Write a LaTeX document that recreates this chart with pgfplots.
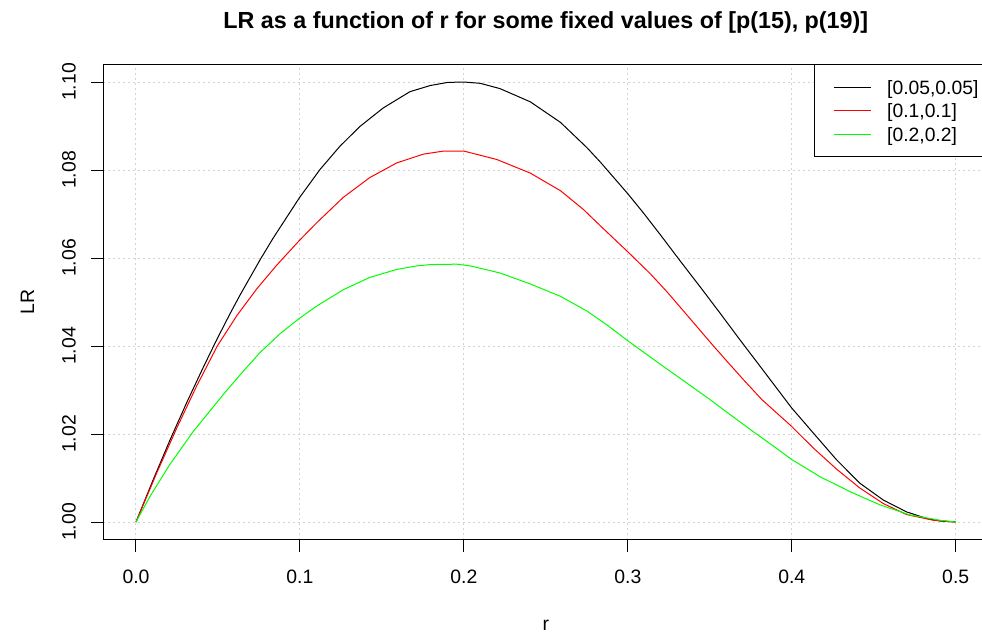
\documentclass[border=0pt]{standalone}
\usepackage{fontspec}
\setmainfont{Liberation Sans}
\usepackage{pgfplots}
\pgfplotsset{compat=1.18}
\definecolor{rgrid}{HTML}{D3D3D3}
\definecolor{rred}{HTML}{FF0000}
\definecolor{rgreen}{HTML}{00FF00}
\begin{document}
\begin{tikzpicture}[x=1pt,y=1pt]
\begin{axis}[
  at={(51.6pt,47.2pt)}, anchor=south west,
  scale only axis, width=442.65pt, height=237.6pt,
  xmin=-0.02, xmax=0.52, ymin=0.996, ymax=1.104,
  xtick={0,0.1,0.2,0.3,0.4,0.5},
  ytick={1.00,1.02,1.04,1.06,1.08,1.10},
  grid=major,
  major grid style={draw=rgrid, dash pattern=on 1pt off 1.5pt, line width=0.5pt},
  axis line style={line width=0.5pt, black},
  tick style={black, line width=0.5pt},
  tick align=outside, major tick length=6pt,
  xtick pos=lower, ytick pos=left,
  /pgf/number format/assume math mode=true,
  ticklabel style={font=\fontsize{9.7}{11}\selectfont},
  xticklabel style={/pgf/number format/fixed, /pgf/number format/fixed zerofill, /pgf/number format/precision=1, anchor=base, yshift=-15.9pt},
  yticklabel style={/pgf/number format/fixed, /pgf/number format/fixed zerofill, /pgf/number format/precision=2, xshift=-7.8pt, rotate=90, anchor=base},
  xlabel={r}, ylabel={LR},
  label style={font=\fontsize{9.7}{11}\selectfont},
  xlabel style={at={(axis description cs:0.5,0)}, anchor=base, yshift=-45.2pt},
  ylabel style={at={(axis description cs:-0.0779,0.5)}, anchor=base},
  legend style={at={(axis description cs:0.8029,1)}, anchor=north west, draw=black, line width=0.5pt, fill=white,
    inner xsep=9.35pt, inner ysep=7.15pt, row sep=3.85pt, column sep=8pt,
    font=\fontsize{9.65}{11}\selectfont,
    nodes={inner sep=0pt, text height=7.45pt, text depth=0.55pt}},
  legend cell align=left,
  legend image code/.code={\draw[#1] (0pt,0pt) -- (18.5pt,0pt);},
  every axis plot/.append style={line width=0.5pt},
]
\addplot[black] coordinates {
(0.000,1.0000) (0.0106,1.0097) (0.0207,1.0186) (0.0309,1.0271) (0.0411,1.0352)
(0.0492,1.0414) (0.0573,1.0473) (0.0635,1.0516) (0.0757,1.0596) (0.0838,1.0646)
(0.0997,1.0737) (0.1122,1.0801) (0.1244,1.0854) (0.1366,1.0899) (0.1508,1.0941)
(0.1671,1.0978) (0.1795,1.0992) (0.190,1.0999) (0.200,1.1000) (0.210,1.0997)
(0.222,1.0985) (0.2405,1.0955) (0.259,1.0908) (0.275,1.0851) (0.283,1.0819)
(0.300,1.0746) (0.3094,1.0703) (0.3196,1.0654) (0.3318,1.0594) (0.344,1.0535)
(0.3562,1.0475) (0.3684,1.0414) (0.3827,1.0344) (0.3953,1.0282) (0.400,1.0259)
(0.4132,1.0202) (0.4274,1.0141) (0.4416,1.0088) (0.4558,1.0050) (0.470,1.0023)
(0.4823,1.0008) (0.4908,1.0002) (0.500,1.0000)
};
\addlegendentry{[0.05,0.05]}
\addplot[rred] coordinates {
(0.000,1.0000) (0.0126,1.0111) (0.0248,1.0213) (0.037,1.0309) (0.0496,1.0400)
(0.0615,1.0469) (0.0737,1.0530) (0.0859,1.0584) (0.0997,1.0640) (0.1102,1.0680)
(0.1265,1.0738) (0.1427,1.0783) (0.159,1.0816) (0.1752,1.0836) (0.1876,1.0843)
(0.200,1.0843) (0.220,1.0824) (0.2405,1.0793) (0.2589,1.0753) (0.273,1.0710)
(0.283,1.0674) (0.300,1.0614) (0.3135,1.0565) (0.3237,1.0524) (0.338,1.0462)
(0.352,1.0401) (0.3603,1.0366) (0.3704,1.0324) (0.3818,1.0278) (0.400,1.0217)
(0.4132,1.0168) (0.4274,1.0120) (0.4416,1.0077) (0.4558,1.0042) (0.470,1.0017)
(0.4863,1.0004) (0.500,1.0000)
};
\addlegendentry{[0.1,0.1]}
\addplot[rgreen] coordinates {
(0.000,1.0000) (0.0085,1.0058) (0.0207,1.0131) (0.035,1.0206) (0.0533,1.0290)
(0.0655,1.0343) (0.0756,1.0385) (0.0879,1.0428) (0.0997,1.0463) (0.1103,1.0491)
(0.1265,1.0528) (0.1427,1.0556) (0.159,1.0574) (0.1712,1.0582) (0.1795,1.0585)
(0.1957,1.0586) (0.204,1.0582) (0.222,1.0566) (0.2405,1.0541) (0.2589,1.0513)
(0.2752,1.0479) (0.2876,1.0447) (0.300,1.0412) (0.3196,1.0359) (0.3359,1.0316) (0.3491,1.0281)
(0.3606,1.0249) (0.377,1.0204) (0.389,1.0172) (0.400,1.0142) (0.4172,1.0103)
(0.4355,1.0069) (0.4538,1.0039) (0.4721,1.0016) (0.4904,1.0004) (0.500,1.0000)
};
\addlegendentry{[0.2,0.2]}
\end{axis}
\node[font=\bfseries\fontsize{11.65}{14}\selectfont, anchor=base] at (272.9,303) {LR as a function of r for some fixed values of [p(15), p(19)]};
\pgfresetboundingbox
\useasboundingbox (0,0) rectangle (491,317);
\end{tikzpicture}
\end{document}
